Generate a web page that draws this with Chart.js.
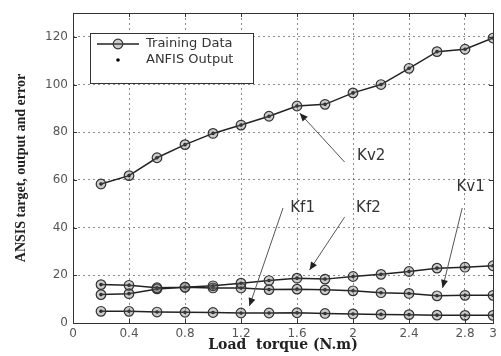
<!DOCTYPE html>
<html>
<head>
<meta charset="utf-8">
<script src="https://cdn.jsdelivr.net/npm/chart.js@4/dist/chart.umd.min.js"></script>
<style>
  html, body { margin: 0; padding: 0; background: #fff; }
  #wrap { width: 501px; height: 356px; }
</style>
</head>
<body>
<div id="wrap"><canvas id="chart" width="501" height="356"></canvas></div>
<script>
// load torque (N.m) at each training sample
const torque = [0.2, 0.4, 0.6, 0.8, 1.0, 1.2, 1.4, 1.6, 1.8, 2.0, 2.2, 2.4, 2.6, 2.8, 3.0];

// gains per torque sample
const kv2 = [58.3, 61.8, 69.3, 74.8, 79.5, 83.0, 86.7, 91.0, 91.7, 96.5, 100.0, 106.8, 113.8, 114.8, 119.5];
const kf2 = [16.1, 15.8, 14.8, 15.0, 15.6, 16.7, 17.8, 18.8, 18.4, 19.5, 20.4, 21.6, 23.0, 23.4, 24.0];
const kv1 = [11.9, 12.3, 14.3, 15.0, 14.7, 14.7, 14.0, 14.2, 13.9, 13.5, 12.7, 12.4, 11.4, 11.6, 11.6];
const kf1 = [4.9, 4.9, 4.6, 4.5, 4.4, 4.2, 4.2, 4.3, 4.0, 3.8, 3.6, 3.5, 3.3, 3.2, 3.2];

const xTicks = [0, 0.4, 0.8, 1.2, 1.6, 2, 2.4, 2.8, 3];
const yTicks = [0, 20, 40, 60, 80, 100, 120];

const series = [kv2, kf2, kv1, kf1];

function pts(ys) {
  return torque.map((x, i) => ({ x: x, y: ys[i] }));
}

const trainingSets = series.map(ys => ({
  label: 'Training Data',
  data: pts(ys),
  borderColor: '#222',
  borderWidth: 1.5,
  pointRadius: 4.8,
  pointBorderWidth: 1.2,
  pointBorderColor: '#333',
  pointBackgroundColor: 'rgba(110,110,110,0.35)',
  tension: 0
}));

const anfisSets = series.map(ys => ({
  label: 'ANFIS Output',
  data: pts(ys),
  showLine: false,
  pointRadius: 1.8,
  pointBorderWidth: 0,
  pointBackgroundColor: '#000'
}));

// curve labels with leader arrows, in data units
const notes = [
  { text: 'Kv2', at: [2.13, 70],   from: [1.94, 67.5], to: [1.62, 88] },
  { text: 'Kf1', at: [1.64, 48.2], from: [1.50, 48.2], to: [1.26, 7.1] },
  { text: 'Kf2', at: [2.11, 48.2], from: [1.94, 44.4], to: [1.69, 22.2] },
  { text: 'Kv1', at: [2.84, 57],   from: [2.78, 48.2], to: [2.64, 14.7] }
];

function arrow(ctx, x1, y1, x2, y2) {
  const a = Math.atan2(y2 - y1, x2 - x1);
  ctx.beginPath();
  ctx.moveTo(x1, y1);
  ctx.lineTo(x2, y2);
  ctx.stroke();
  const len = 8, w = 3.5;
  ctx.beginPath();
  ctx.moveTo(x2, y2);
  ctx.lineTo(x2 - len * Math.cos(a) + w * Math.sin(a), y2 - len * Math.sin(a) - w * Math.cos(a));
  ctx.lineTo(x2 - len * Math.cos(a) - w * Math.sin(a), y2 - len * Math.sin(a) + w * Math.cos(a));
  ctx.closePath();
  ctx.fill();
}

const decorations = {
  id: 'decorations',
  afterDatasetsDraw(chart) {
    const { ctx, chartArea: ca, scales: { x, y } } = chart;
    ctx.save();

    // axes box with inward tick marks
    ctx.strokeStyle = '#333';
    ctx.lineWidth = 1;
    ctx.strokeRect(ca.left + 0.5, ca.top + 0.5, ca.right - ca.left, ca.bottom - ca.top);
    ctx.beginPath();
    xTicks.forEach(v => {
      const px = Math.round(x.getPixelForValue(v)) + 0.5;
      ctx.moveTo(px, ca.bottom); ctx.lineTo(px, ca.bottom - 4);
      ctx.moveTo(px, ca.top); ctx.lineTo(px, ca.top + 4);
    });
    yTicks.forEach(v => {
      const py = Math.round(y.getPixelForValue(v)) + 0.5;
      ctx.moveTo(ca.left, py); ctx.lineTo(ca.left + 4, py);
      ctx.moveTo(ca.right, py); ctx.lineTo(ca.right - 4, py);
    });
    ctx.stroke();

    // curve names and arrows
    ctx.strokeStyle = '#555';
    ctx.lineWidth = 1;
    ctx.font = '15px "DejaVu Sans"';
    ctx.textAlign = 'center';
    ctx.textBaseline = 'middle';
    notes.forEach(n => {
      ctx.fillStyle = '#333';
      ctx.fillText(n.text, x.getPixelForValue(n.at[0]), y.getPixelForValue(n.at[1]));
      ctx.fillStyle = '#222';
      arrow(ctx,
        x.getPixelForValue(n.from[0]), y.getPixelForValue(n.from[1]),
        x.getPixelForValue(n.to[0]), y.getPixelForValue(n.to[1]));
    });

    // legend box
    const lx = ca.left + 17, ly = ca.top + 20, lw = 163, lh = 50;
    ctx.fillStyle = '#fff';
    ctx.fillRect(lx, ly, lw, lh);
    ctx.strokeStyle = '#333';
    ctx.strokeRect(lx + 0.5, ly + 0.5, lw, lh);
    const r1 = ly + 11, r2 = ly + 27, sx = lx + 28;
    ctx.strokeStyle = '#222';
    ctx.lineWidth = 1.5;
    ctx.beginPath();
    ctx.moveTo(lx + 7, r1); ctx.lineTo(lx + 49, r1);
    ctx.stroke();
    ctx.beginPath();
    ctx.arc(sx, r1, 4.8, 0, Math.PI * 2);
    ctx.fillStyle = 'rgba(110,110,110,0.35)';
    ctx.fill();
    ctx.lineWidth = 1.2;
    ctx.strokeStyle = '#333';
    ctx.stroke();
    ctx.beginPath();
    ctx.arc(sx, r2, 1.8, 0, Math.PI * 2);
    ctx.fillStyle = '#000';
    ctx.fill();
    ctx.fillStyle = '#333';
    ctx.font = '13px "DejaVu Sans"';
    ctx.textAlign = 'left';
    ctx.fillText('Training Data', lx + 56, r1);
    ctx.fillText('ANFIS Output', lx + 56, r2);

    ctx.restore();
  }
};

const tickFont = { family: 'DejaVu Sans', size: 12 };

new Chart(document.getElementById('chart'), {
  type: 'line',
  data: { datasets: trainingSets.concat(anfisSets) },
  options: {
    responsive: false,
    animation: false,
    layout: { padding: { top: 13, right: 8, left: 0, bottom: 0 } },
    plugins: { legend: { display: false }, tooltip: { enabled: false } },
    scales: {
      x: {
        type: 'linear',
        min: 0,
        max: 3,
        afterBuildTicks: s => { s.ticks = xTicks.map(v => ({ value: v })); },
        afterFit: s => { s.height = 33; },
        ticks: { font: tickFont, color: '#555', padding: 4, maxRotation: 0, autoSkip: false,
                 callback: v => String(v) },
        grid: { color: 'rgba(0,0,0,0.45)', drawTicks: false },
        border: { display: false, dash: [2, 3] },
        title: { display: true, text: 'Load  torque (N.m)', color: '#222',
                 font: { family: 'DejaVu Serif', weight: 'bold', size: 14 },
                 padding: { top: 0, bottom: 2 } }
      },
      y: {
        min: 0,
        max: 130,
        afterBuildTicks: s => { s.ticks = yTicks.map(v => ({ value: v })); },
        afterFit: s => { s.width = 73; },
        ticks: { font: tickFont, color: '#555', padding: 5 },
        grid: { color: 'rgba(0,0,0,0.45)', drawTicks: false },
        border: { display: false, dash: [2, 3] },
        title: { display: true, text: 'ANSIS target, output and error', color: '#222',
                 font: { family: 'Liberation Serif', weight: 'bold', size: 14 },
                 padding: { top: 13, bottom: 0 } }
      }
    }
  },
  plugins: [decorations]
});
</script>
</body>
</html>
